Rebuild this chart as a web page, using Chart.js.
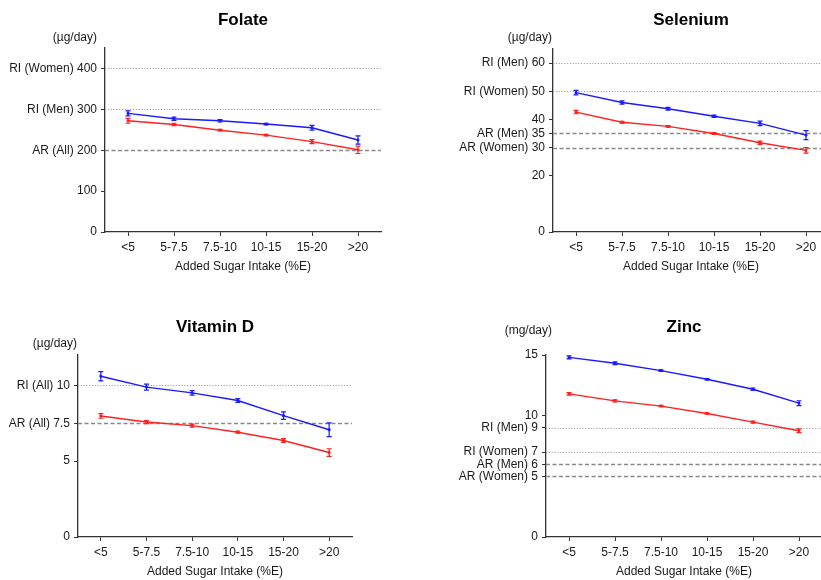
<!DOCTYPE html>
<html lang="en">
<head>
    <meta charset="UTF-8">
    <title>Micronutrient intake by added sugar intake</title>
    <style>
        html, body {
            margin: 0;
            padding: 0;
            background: #fff;
            overflow: hidden;
            width: 821px;
            height: 580px;
        }
        .panel {
            position: absolute;
        }
    </style>
    <script src="https://cdn.jsdelivr.net/npm/chart.js"></script>
</head>
<body>

    <div class="panel" style="left:0;top:0"><canvas id="folateChart" width="410" height="290"></canvas></div>
    <div class="panel" style="left:410px;top:0"><canvas id="seleniumChart" width="430" height="290"></canvas></div>
    <div class="panel" style="left:0;top:300px"><canvas id="vitaminDChart" width="410" height="280"></canvas></div>
    <div class="panel" style="left:410px;top:300px"><canvas id="zincChart" width="430" height="280"></canvas></div>

    <script>
        // Categories (added sugar intake, %E)
        const categories = ['<5', '5-7.5', '7.5-10', '10-15', '15-20', '>20'];

        // Folate (ug/day)
        const folateMen = [290, 277, 272, 264, 255, 225];
        const folateMenErr = [6, 4, 3, 2, 6, 10];
        const folateWomen = [272, 263, 249, 237, 221, 201];
        const folateWomenErr = [6, 3, 2, 2, 5, 9];
        const folateTicks = [0, 100, 200, 300, 400];
        const folateTickLabels = ['0', '100', 'AR (All) 200', 'RI (Men) 300', 'RI (Women) 400'];
        const folateRefs = [200, 300, 400];
        const folateRefKinds = ['AR', 'RI', 'RI'];

        // Selenium (ug/day)
        const seleniumMen = [49.5, 46.0, 43.8, 41.1, 38.6, 34.4];
        const seleniumMenErr = [0.8, 0.6, 0.5, 0.4, 0.8, 1.6];
        const seleniumWomen = [42.6, 39.0, 37.5, 35.0, 31.7, 29.0];
        const seleniumWomenErr = [0.6, 0.3, 0.3, 0.3, 0.6, 1.0];
        const seleniumTicks = [0, 20, 30, 35, 40, 50, 60];
        const seleniumTickLabels = ['0', '20', 'AR (Women) 30', 'AR (Men) 35', '40', 'RI (Women) 50', 'RI (Men) 60'];
        const seleniumRefs = [30, 35, 50, 60];
        const seleniumRefKinds = ['AR', 'AR', 'RI', 'RI'];

        // Vitamin D (ug/day)
        const vitaminDMen = [10.6, 9.88, 9.5, 9.0, 8.0, 7.07];
        const vitaminDMenErr = [0.3, 0.2, 0.15, 0.13, 0.25, 0.45];
        const vitaminDWomen = [7.98, 7.58, 7.34, 6.91, 6.36, 5.57];
        const vitaminDWomenErr = [0.15, 0.1, 0.1, 0.07, 0.12, 0.25];
        const vitaminDTicks = [0, 5, 7.5, 10];
        const vitaminDTickLabels = ['0', '5', 'AR (All) 7.5', 'RI (All) 10'];
        const vitaminDRefs = [7.5, 10];
        const vitaminDRefKinds = ['AR', 'RI'];

        // Zinc (mg/day)
        const zincMen = [14.8, 14.32, 13.71, 13.0, 12.18, 11.03];
        const zincMenErr = [0.12, 0.12, 0.07, 0.06, 0.1, 0.2];
        const zincWomen = [11.8, 11.22, 10.79, 10.18, 9.47, 8.76];
        const zincWomenErr = [0.1, 0.08, 0.05, 0.05, 0.08, 0.15];
        const zincTicks = [0, 5, 6, 7, 9, 10, 15];
        const zincTickLabels = ['0', 'AR (Women) 5', 'AR (Men) 6', 'RI (Women) 7', 'RI (Men) 9', '10', '15'];
        const zincRefs = [5, 6, 7, 9];
        const zincRefKinds = ['AR', 'AR', 'RI', 'RI'];

        Chart.defaults.font.family = '"Liberation Sans", Arial, sans-serif';
        Chart.defaults.font.size = 12;
        Chart.defaults.color = '#1a1a1a';

        // reference lines, error bars, panel title and unit label
        const panelDecor = {
            id: 'panelDecor',
            beforeDatasetsDraw(chart, args, opts) {
                const ctx = chart.ctx;
                const area = chart.chartArea;
                const y = chart.scales.y;
                ctx.save();
                opts.refs.forEach((v, i) => {
                    const py = Math.round(y.getPixelForValue(v)) + 0.5;
                    if (opts.refKinds[i] === 'AR') {
                        ctx.strokeStyle = '#8a8a8a';
                        ctx.lineWidth = 1.3;
                        ctx.setLineDash([4, 2.5]);
                    } else {
                        ctx.strokeStyle = '#a0a0a0';
                        ctx.lineWidth = 1;
                        ctx.setLineDash([1.2, 1.6]);
                    }
                    ctx.beginPath();
                    ctx.moveTo(area.left, py);
                    ctx.lineTo(area.right, py);
                    ctx.stroke();
                });
                ctx.restore();
            },
            afterDatasetsDraw(chart, args, opts) {
                const ctx = chart.ctx;
                const y = chart.scales.y;
                ctx.save();
                ctx.setLineDash([]);
                chart.data.datasets.forEach((ds, di) => {
                    const meta = chart.getDatasetMeta(di);
                    const errs = opts.errors[di];
                    ctx.strokeStyle = ds.borderColor;
                    ctx.lineWidth = 1.2;
                    meta.data.forEach((pt, i) => {
                        const top = y.getPixelForValue(ds.data[i] + errs[i]);
                        const bot = y.getPixelForValue(ds.data[i] - errs[i]);
                        ctx.beginPath();
                        ctx.moveTo(pt.x, top);
                        ctx.lineTo(pt.x, bot);
                        ctx.moveTo(pt.x - 2.5, top);
                        ctx.lineTo(pt.x + 2.5, top);
                        ctx.moveTo(pt.x - 2.5, bot);
                        ctx.lineTo(pt.x + 2.5, bot);
                        ctx.stroke();
                    });
                });
                ctx.restore();
            },
            afterDraw(chart, args, opts) {
                const ctx = chart.ctx;
                const area = chart.chartArea;
                ctx.save();
                ctx.fillStyle = '#000';
                ctx.textAlign = 'center';
                ctx.textBaseline = 'middle';
                ctx.font = 'bold 17px "Liberation Sans", Arial, sans-serif';
                ctx.fillText(opts.title, (area.left + area.right) / 2, opts.titleY);
                ctx.fillStyle = '#1a1a1a';
                ctx.textAlign = 'right';
                ctx.font = '12px "Liberation Sans", Arial, sans-serif';
                ctx.fillText(opts.unit, opts.unitRight, opts.unitY);
                ctx.restore();
            }
        };

        function makePanel(id, cfg) {
            const ctx = document.getElementById(id).getContext('2d');
            return new Chart(ctx, {
                type: 'line',
                data: {
                    labels: categories,
                    datasets: [{
                        label: 'Men',
                        data: cfg.men,
                        borderColor: '#1a1aff',
                        backgroundColor: '#1a1aff',
                        borderWidth: 1.4,
                        pointStyle: 'rect',
                        pointRadius: 1.3,
                        pointBorderWidth: 1,
                        tension: 0
                    }, {
                        label: 'Women',
                        data: cfg.women,
                        borderColor: '#ff2020',
                        backgroundColor: '#ff2020',
                        borderWidth: 1.4,
                        pointStyle: 'rect',
                        pointRadius: 1.3,
                        pointBorderWidth: 1,
                        tension: 0
                    }]
                },
                options: {
                    responsive: false,
                    animation: false,
                    layout: { padding: cfg.padding },
                    plugins: {
                        legend: { display: false },
                        tooltip: { enabled: false },
                        panelDecor: {
                            title: cfg.title,
                            titleY: cfg.titleY,
                            unit: cfg.unit,
                            unitRight: cfg.unitRight,
                            unitY: cfg.unitY,
                            refs: cfg.refs,
                            refKinds: cfg.refKinds,
                            errors: cfg.errors
                        }
                    },
                    scales: {
                        x: {
                            offset: true,
                            grid: { display: true, drawOnChartArea: false, drawTicks: true, tickLength: 4, color: '#333', offset: false },
                            border: { display: true, color: '#333', width: 1.3 },
                            ticks: { padding: 4, color: '#1a1a1a', maxRotation: 0, autoSkip: false },
                            title: { display: true, text: 'Added Sugar Intake (%E)', color: '#1a1a1a', padding: 0 },
                            afterFit(scale) { scale.height = 42; }
                        },
                        y: {
                            min: cfg.min,
                            max: cfg.max,
                            grid: { display: true, drawOnChartArea: false, drawTicks: true, tickLength: 4, color: '#333' },
                            border: { display: true, color: '#333', width: 1.3 },
                            ticks: {
                                padding: 4,
                                color: '#1a1a1a',
                                callback(value) {
                                    const k = cfg.ticks.indexOf(value);
                                    return k >= 0 ? cfg.tickLabels[k] : '';
                                }
                            },
                            afterBuildTicks(scale) {
                                scale.ticks = cfg.ticks.map(v => ({ value: v }));
                            },
                            afterFit(scale) { scale.width = cfg.axisWidth; }
                        }
                    }
                },
                plugins: [panelDecor]
            });
        }

        makePanel('folateChart', {
            title: 'Folate', titleY: 20, unit: '(\u00b5g/day)', unitRight: 97, unitY: 38,
            men: folateMen, women: folateWomen, errors: [folateMenErr, folateWomenErr],
            ticks: folateTicks, tickLabels: folateTickLabels, refs: folateRefs, refKinds: folateRefKinds,
            min: 0, max: 450, axisWidth: 105,
            padding: { top: 48, right: 29, bottom: 16, left: 0 }
        });

        makePanel('seleniumChart', {
            title: 'Selenium', titleY: 20, unit: '(\u00b5g/day)', unitRight: 142, unitY: 38,
            men: seleniumMen, women: seleniumWomen, errors: [seleniumMenErr, seleniumWomenErr],
            ticks: seleniumTicks, tickLabels: seleniumTickLabels, refs: seleniumRefs, refKinds: seleniumRefKinds,
            min: 0, max: 65, axisWidth: 143,
            padding: { top: 49, right: 11, bottom: 16, left: 0 }
        });

        makePanel('vitaminDChart', {
            title: 'Vitamin D', titleY: 27, unit: '(\u00b5g/day)', unitRight: 77, unitY: 44,
            men: vitaminDMen, women: vitaminDWomen, errors: [vitaminDMenErr, vitaminDWomenErr],
            ticks: vitaminDTicks, tickLabels: vitaminDTickLabels, refs: vitaminDRefs, refKinds: vitaminDRefKinds,
            min: 0, max: 12, axisWidth: 78,
            padding: { top: 55, right: 58, bottom: 1, left: 0 }
        });

        makePanel('zincChart', {
            title: 'Zinc', titleY: 27, unit: '(mg/day)', unitRight: 142, unitY: 31,
            men: zincMen, women: zincWomen, errors: [zincMenErr, zincWomenErr],
            ticks: zincTicks, tickLabels: zincTickLabels, refs: zincRefs, refKinds: zincRefKinds,
            min: 0, max: 15, axisWidth: 136,
            padding: { top: 55, right: 18, bottom: 1, left: 0 }
        });
    </script>
</body>
</html>
